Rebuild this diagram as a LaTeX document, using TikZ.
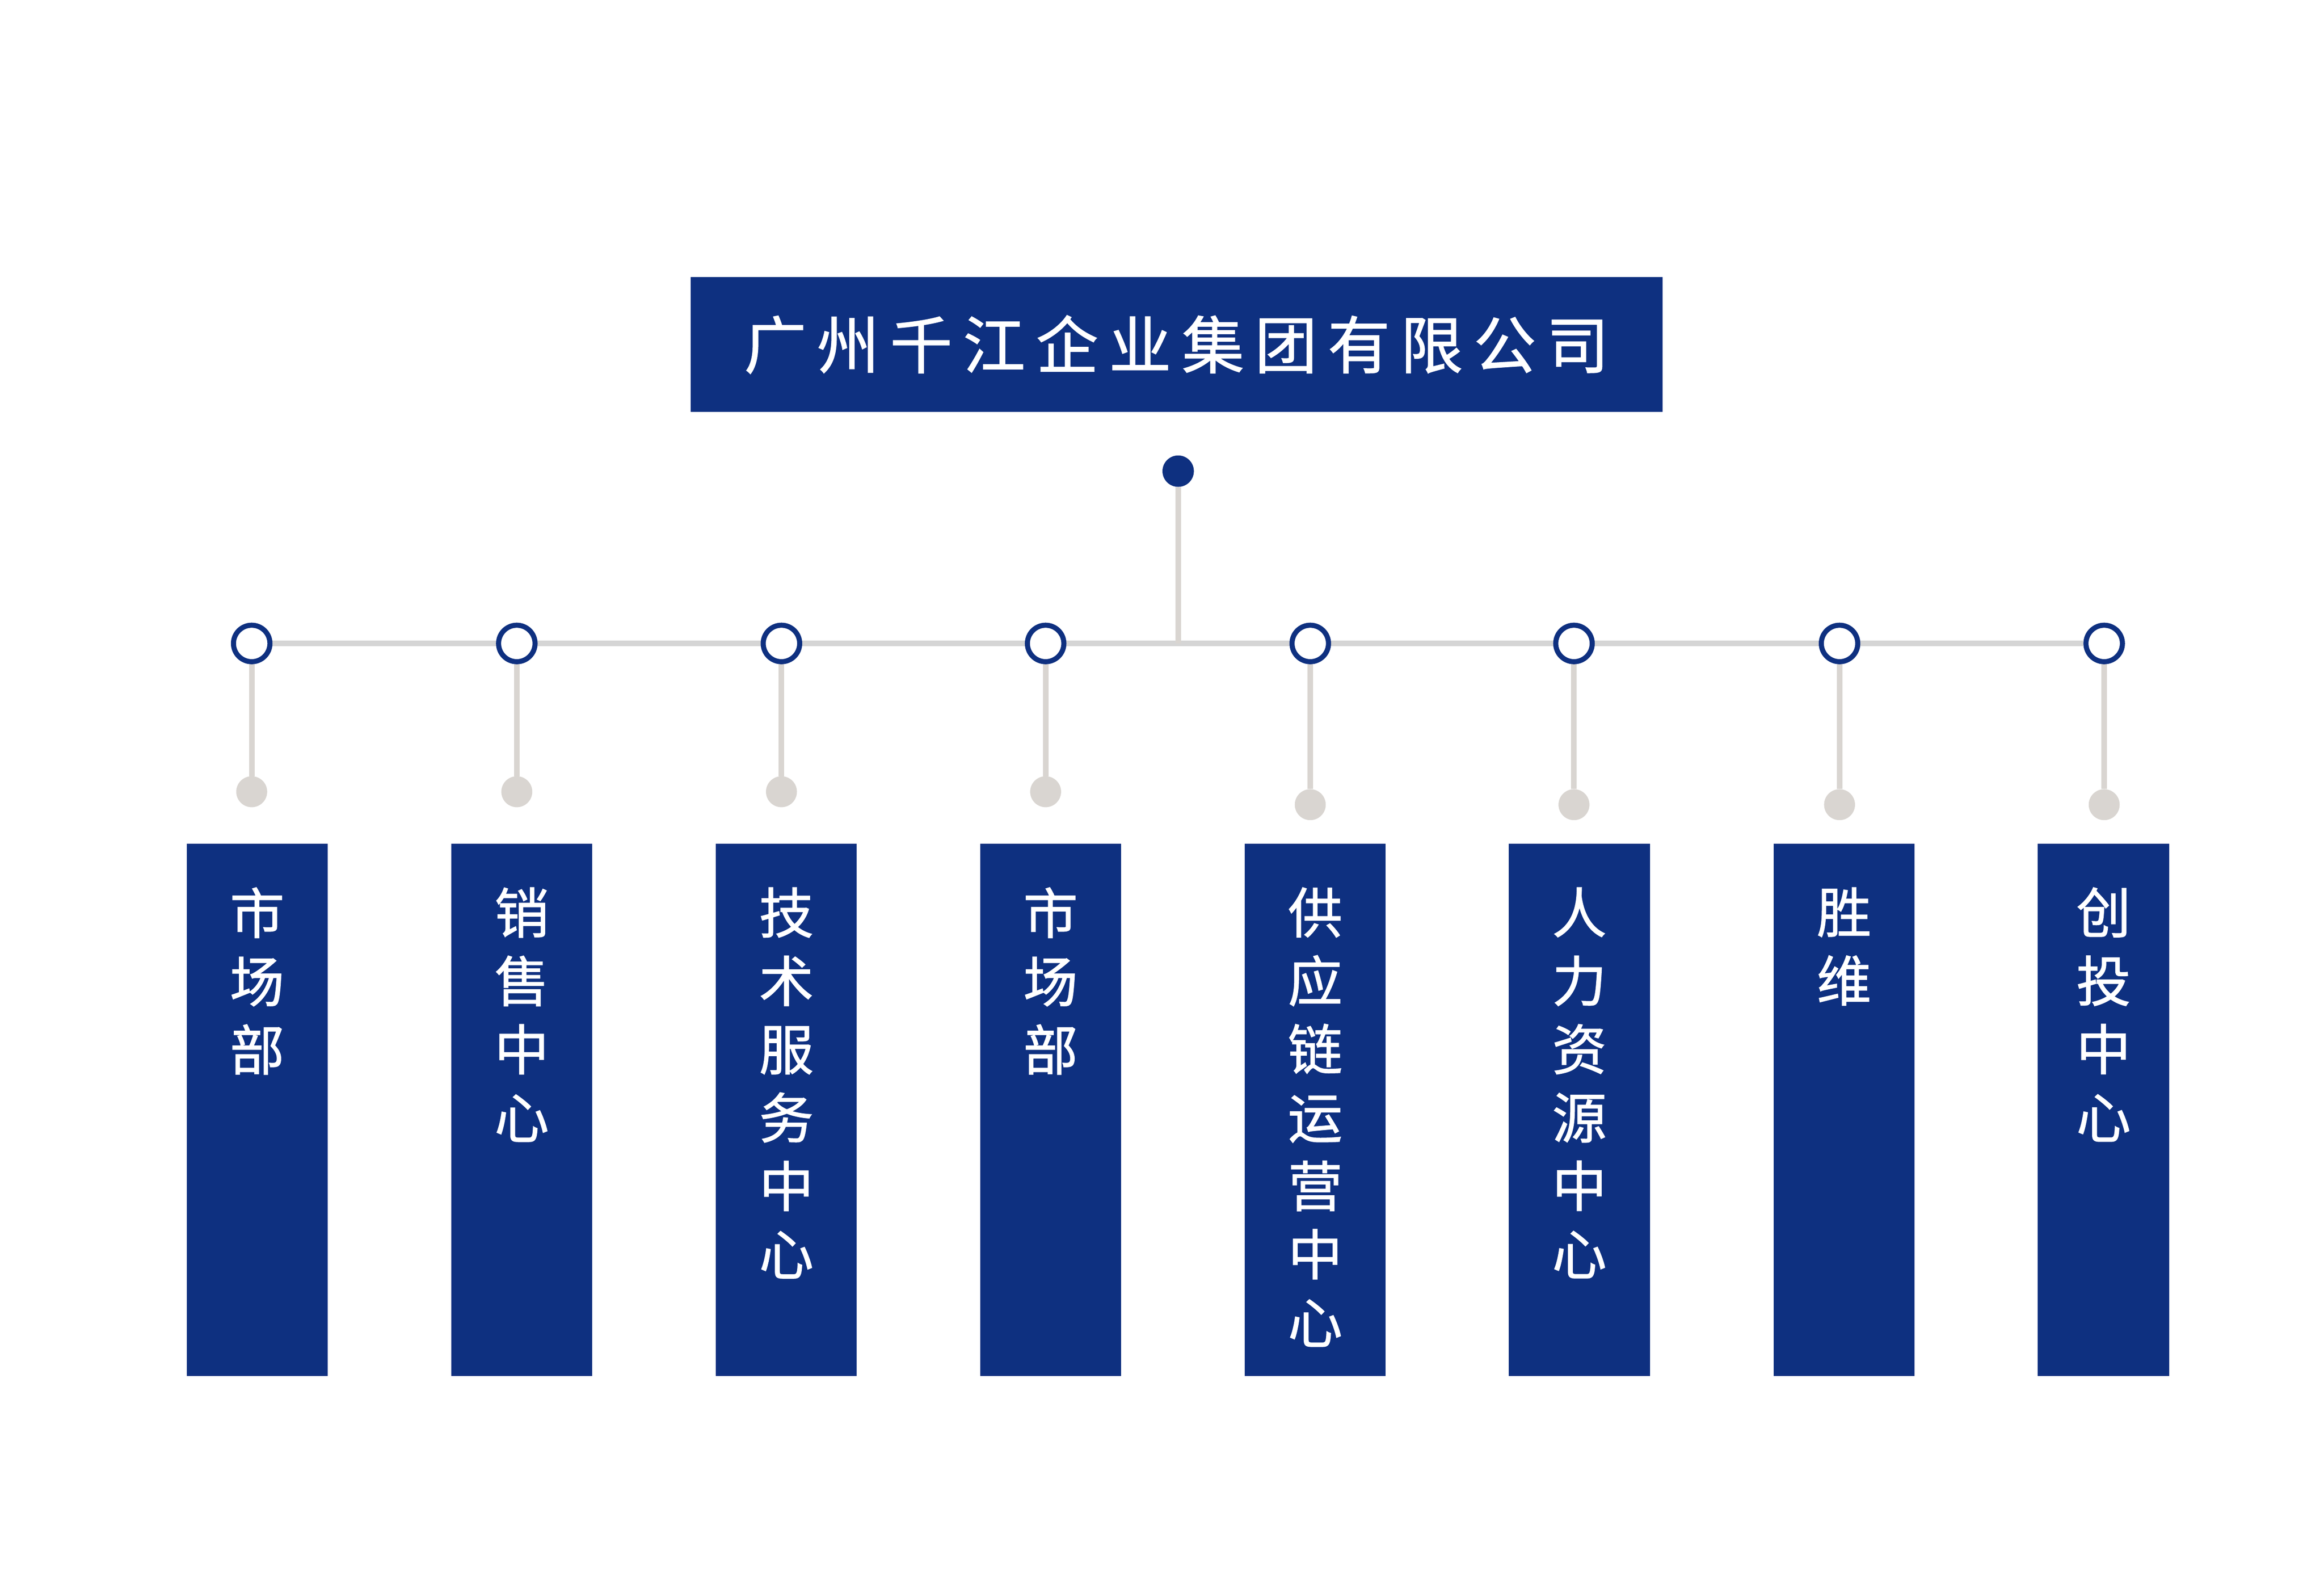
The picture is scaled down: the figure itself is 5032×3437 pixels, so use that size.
\documentclass[tikz,border=0pt]{standalone}
\usepackage{fontspec}
\newfontfamily\cjk[FakeBold=1.2]{Noto Sans CJK SC}
\newfontfamily\cjktitle[LetterSpace=17,FakeBold=1.2]{Noto Sans CJK SC}
\usetikzlibrary{positioning,backgrounds}
\definecolor{navy}{RGB}{14,48,128}
\definecolor{barcol}{RGB}{213,213,213}
\definecolor{stemcol}{RGB}{217,213,209}
\tikzset{
	ring/.style={circle,draw=navy,fill=white,line width=11pt,minimum size=79pt,inner sep=0pt},
	pin/.style={circle,fill=stemcol,minimum size=67pt,inner sep=0pt},
	hub/.style={circle,fill=navy,minimum size=68pt,inner sep=0pt},
	dept/.style={fill=navy,anchor=north west,minimum width=305pt,minimum height=1153pt,inner sep=0pt},
	depttext/.style={text=white,font=\cjk\fontsize{118pt}{148pt}\selectfont,align=center,inner sep=0pt},
	bar/.style={line width=11.5pt,barcol},
	stem/.style={line width=12pt,stemcol}
}
\begin{document}
\begin{tikzpicture}[x=1pt,y=-1pt]
		\pgfmathsetmacro{\ybar}{1393};
		\pgfmathsetmacro{\ypin}{1714};
		\pgfmathsetmacro{\ypinb}{1742};
		\pgfmathsetmacro{\ybox}{1826};
		\useasboundingbox (0,0) rectangle (5032,3437);
		\node[fill=navy,minimum width=2105pt,minimum height=292pt,inner sep=0pt,text=white,font=\cjktitle\fontsize{135pt}{160pt}\selectfont] (title) at (2547.5,746) {广州千江企业集团有限公司};
		\node[hub] (hub) at (2551,1020) {};
		% rings on the bar
		\node[ring] (c1) at (545,\ybar) {};
		\node[ring] (c2) at (1119,\ybar) {};
		\node[ring] (c3) at (1692,\ybar) {};
		\node[ring] (c4) at (2264,\ybar) {};
		\node[ring] (c5) at (2837,\ybar) {};
		\node[ring] (c6) at (3408,\ybar) {};
		\node[ring] (c7) at (3983,\ybar) {};
		\node[ring] (c8) at (4556,\ybar) {};
		\node[pin] (p1) at (545,\ypin) {};
		\node[pin] (p2) at (1119,\ypin) {};
		\node[pin] (p3) at (1692,\ypin) {};
		\node[pin] (p4) at (2264,\ypin) {};
		\node[pin] (p5) at (2837,\ypinb) {};
		\node[pin] (p6) at (3408,\ypinb) {};
		\node[pin] (p7) at (3983,\ypinb) {};
		\node[pin] (p8) at (4556,\ypinb) {};
		\begin{scope}[on background layer]
			\draw[bar] (c1) -- (c8);
			\draw[stem] (hub) -- (hub |- c1);
			\draw[stem] (c1) -- (p1);
			\draw[stem] (c2) -- (p2);
			\draw[stem] (c3) -- (p3);
			\draw[stem] (c4) -- (p4);
			\draw[stem] (c5) -- (p5);
			\draw[stem] (c6) -- (p6);
			\draw[stem] (c7) -- (p7);
			\draw[stem] (c8) -- (p8);
		\end{scope}
		% departments
		\node[dept] (d1) at (404,\ybox) {};
		\node[dept] (d2) at (977,\ybox) {};
		\node[dept] (d3) at (1550,\ybox) {};
		\node[dept] (d4) at (2122,\ybox) {};
		\node[dept] (d5) at (2695,\ybox) {};
		\node[dept] (d6) at (3267,\ybox) {};
		\node[dept] (d7) at (3840,\ybox) {};
		\node[dept,minimum width=285pt] (d8) at (4412,\ybox) {};
		\node[depttext,below=95pt of d1.north] (t1) {市\\场\\部};
		\node[depttext,below=95pt of d2.north] (t2) {销\\售\\中\\心};
		\node[depttext,below=95pt of d3.north] (t3) {技\\术\\服\\务\\中\\心};
		\node[depttext,below=95pt of d4.north] (t4) {市\\场\\部};
		\node[depttext,below=95pt of d5.north] (t5) {供\\应\\链\\运\\营\\中\\心};
		\node[depttext,below=95pt of d6.north] (t6) {人\\力\\资\\源\\中\\心};
		\node[depttext,below=95pt of d7.north] (t7) {胜\\维};
		\node[depttext,below=95pt of d8.north] (t8) {创\\投\\中\\心};
	\end{tikzpicture}
\end{document}
